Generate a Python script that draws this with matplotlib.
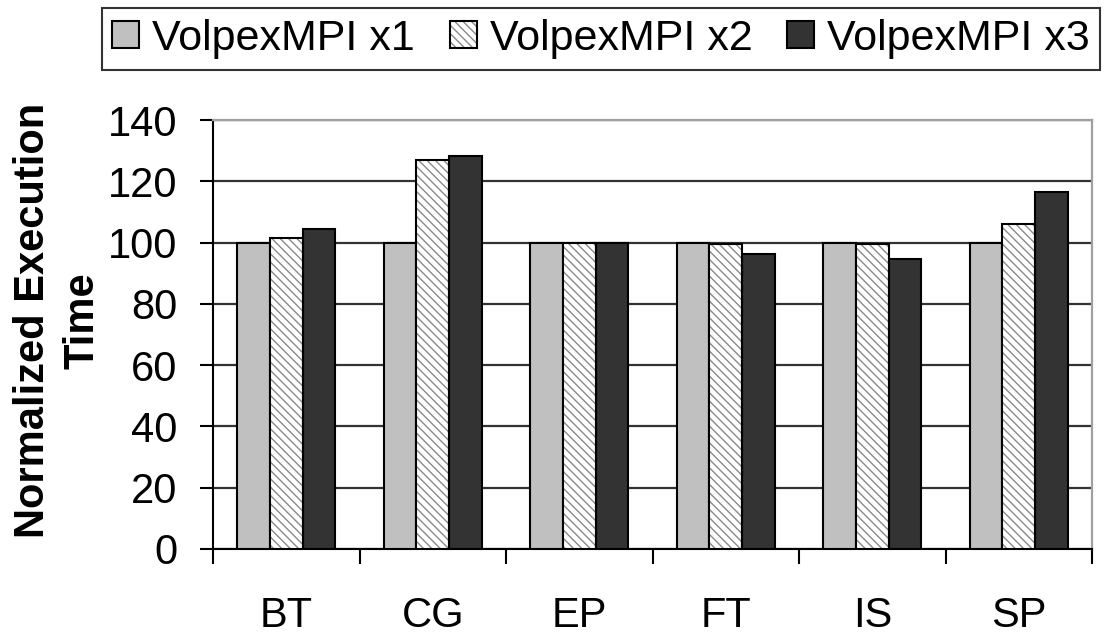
import numpy as np
import matplotlib
matplotlib.use("Agg")
import matplotlib.pyplot as plt
from matplotlib.legend_handler import HandlerTuple

plt.rcParams['font.family'] = ['Liberation Sans', 'DejaVu Sans']

# benchmarks and normalized execution time (x1 = 100)
benchmarks = ["BT", "CG", "EP", "FT", "IS", "SP"]
series_names = ["VolpexMPI x1", "VolpexMPI x2", "VolpexMPI x3"]
x1_vals = [100, 100, 100, 100, 100, 100]
x2_vals = [101.6, 126.8, 100, 99.5, 99.5, 106]
x3_vals = [104.5, 128.4, 100, 96.4, 94.7, 116.5]

fig = plt.figure(figsize=(11.14, 6.34), dpi=100)
ax = fig.add_axes([0.1912, 0.1341, 0.7891, 0.6766])

x = np.arange(len(benchmarks))
w = 0.223

b1 = ax.bar(x - w, x1_vals, w, color="#c0c0c0", edgecolor="black", lw=1.5, zorder=3)
# hatched bar: gray hatch underneath, black outline on top
b2h = ax.bar(x, x2_vals, w, color="white", edgecolor="#8a8a8a", hatch="\\\\\\\\", lw=0, zorder=3)
b2e = ax.bar(x, x2_vals, w, fill=False, edgecolor="black", lw=1.5, zorder=4)
b3 = ax.bar(x + w, x3_vals, w, color="#333333", edgecolor="black", lw=1.5, zorder=3)

ax.set_xlim(-0.5, len(benchmarks) - 0.5)
ax.set_ylim(0, 140)
ax.set_yticks(np.arange(0, 141, 20))
ax.yaxis.grid(True, color="#333333", lw=1.6, zorder=0)
ax.set_axisbelow(True)

ax.set_xticks(x)
ax.set_xticklabels(benchmarks, fontsize=30)
ax.set_xticks(np.arange(-0.5, len(benchmarks)), minor=True)
ax.tick_params(axis="x", which="major", length=0, pad=34)
ax.tick_params(axis="x", which="minor", length=11, width=1.5, direction="out")
ax.tick_params(axis="y", labelsize=30, length=9.5, width=1.5, direction="out", pad=16)

for s in ["left", "bottom"]:
    ax.spines[s].set_color("black")
    ax.spines[s].set_linewidth(1.5)
for s in ["top", "right"]:
    ax.spines[s].set_color("#a0a0a0")
    ax.spines[s].set_linewidth(1.6)

fig.text(0.052, 0.494, "Normalized Execution\nTime", rotation=90, ha="center", va="center",
         fontsize=30, fontweight="bold", linespacing=1.3)

leg = fig.legend([b1[0], (b2h[0], b2e[0]), b3[0]], series_names,
                 handler_map={tuple: HandlerTuple(ndivide=1)},
                 loc="upper center", bbox_to_anchor=(0.5395, 0.987), ncol=3,
                 fontsize=31, handlelength=0.63, handleheight=0.58, handletextpad=0.3,
                 columnspacing=0.8, borderpad=0.25, borderaxespad=0, fancybox=False,
                 frameon=True, edgecolor="black")
leg.get_frame().set_linewidth(1.5)

fig.savefig("out.png", dpi=100)
